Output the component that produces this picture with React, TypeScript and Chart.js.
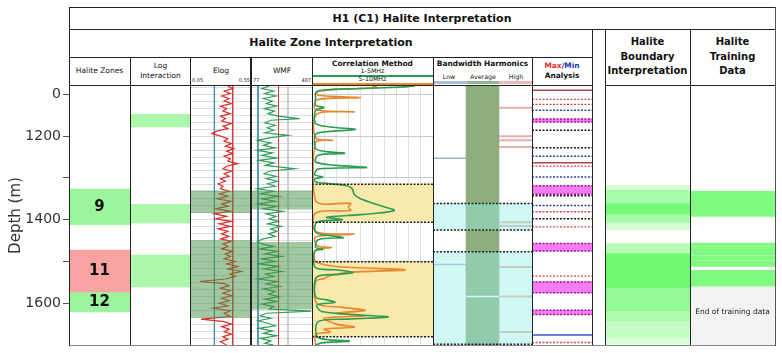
import React, { useEffect, useRef } from 'react';
import { Chart, registerables } from 'chart.js';

Chart.register(...registerables);

const FONT = '"DejaVu Sans", Verdana, sans-serif';

// ---------------- Depth axis ----------------
const DEPTH_MIN = 1080;
const DEPTH_MAX = 1700;
const DEPTH_TICKS = [1100, 1200, 1300, 1400, 1500, 1600];
const DEPTH_TICK_LABELS = ['0', '1200', '', '1400', '', '1600'];

// ---------------- Halite Zones ----------------
const ZONE_LABELS = ['9', '11', '12'];
const ZONE_TOPS = [1327, 1473, 1573];
const ZONE_BASES = [1412, 1573, 1621];
const ZONE_COLORS = ['#9cf59c', '#f7a3a3', '#9cf59c'];

// ---------------- Log Interaction ----------------
const LOG_INTERACTION_BANDS = [[1148, 1178], [1363, 1408], [1485, 1561]];

// ---------------- Elog ----------------
const ELOG_RANGE = [0.05, 0.55];
const ELOG_CUTOFFS = [0.25, 0.4];
const ELOG_SHADED = [[1331, 1383], [1450, 1634]];
const ELOG = [
  [1080, 0.36], [1086, 0.40], [1092, 0.33], [1098, 0.38], [1104, 0.31], [1110, 0.37], [1116, 0.33], [1122, 0.39],
  [1128, 0.30], [1134, 0.35], [1140, 0.32], [1146, 0.38], [1152, 0.30], [1158, 0.34], [1164, 0.31], [1170, 0.39],
  [1176, 0.32], [1182, 0.36], [1188, 0.27], [1194, 0.23], [1200, 0.30], [1206, 0.36], [1212, 0.33], [1218, 0.39],
  [1224, 0.34], [1230, 0.41], [1236, 0.35], [1242, 0.40], [1248, 0.33], [1254, 0.38], [1260, 0.36], [1266, 0.44],
  [1272, 0.35], [1278, 0.32], [1284, 0.39], [1290, 0.33], [1296, 0.37], [1302, 0.30], [1308, 0.34], [1314, 0.28],
  [1320, 0.32], [1326, 0.30], [1332, 0.37], [1338, 0.29], [1344, 0.36], [1350, 0.27], [1356, 0.39], [1362, 0.31],
  [1368, 0.36], [1374, 0.26], [1380, 0.38], [1386, 0.25], [1392, 0.35], [1398, 0.26], [1404, 0.39], [1410, 0.29],
  [1416, 0.38], [1422, 0.28], [1428, 0.36], [1434, 0.31], [1440, 0.37], [1446, 0.30], [1452, 0.39], [1458, 0.32],
  [1464, 0.36], [1470, 0.31], [1476, 0.40], [1482, 0.34], [1488, 0.38], [1494, 0.33], [1500, 0.42], [1506, 0.35],
  [1512, 0.44], [1518, 0.36], [1524, 0.47], [1530, 0.38], [1536, 0.42], [1542, 0.34], [1548, 0.13], [1553, 0.33],
  [1558, 0.37], [1564, 0.30], [1570, 0.38], [1576, 0.32], [1582, 0.39], [1588, 0.31], [1594, 0.37], [1600, 0.29],
  [1606, 0.36], [1612, 0.24], [1618, 0.38], [1624, 0.33], [1632, 0.38], [1638, 0.14], [1644, 0.33], [1650, 0.39],
  [1656, 0.31], [1662, 0.37], [1668, 0.33], [1674, 0.39], [1680, 0.32], [1686, 0.36], [1692, 0.30], [1700, 0.35],
];

// ---------------- WMF ----------------
const WMF_RANGE = [77, 487];
const WMF_CUTOFFS = [124, 262];
const WMF_GRID = [326];
const WMF_SHADED = [[1331, 1375], [1454, 1614]];
const WMF = [
  [1080, 200], [1086, 150], [1092, 230], [1098, 170], [1104, 245], [1110, 160], [1116, 220], [1122, 180],
  [1128, 250], [1134, 165], [1140, 235], [1146, 190], [1152, 260], [1158, 404], [1162, 210], [1168, 170],
  [1174, 240], [1180, 185], [1186, 230], [1192, 170], [1198, 326], [1204, 200], [1210, 120], [1216, 210],
  [1222, 160], [1228, 240], [1234, 118], [1240, 220], [1246, 150], [1252, 250], [1258, 130], [1264, 230],
  [1270, 175], [1278, 370], [1284, 200], [1290, 165], [1296, 245], [1302, 180], [1308, 255], [1314, 190],
  [1320, 240], [1326, 120], [1332, 230], [1338, 140], [1344, 265], [1350, 150], [1356, 240], [1362, 125],
  [1368, 250], [1374, 160], [1380, 290], [1386, 180], [1392, 245], [1398, 200], [1404, 260], [1410, 190],
  [1416, 280], [1422, 210], [1428, 250], [1434, 195], [1440, 240], [1446, 160], [1452, 120], [1458, 150],
  [1464, 230], [1470, 140], [1476, 255], [1482, 170], [1488, 280], [1494, 150], [1500, 240], [1506, 130],
  [1512, 260], [1518, 165], [1524, 285], [1530, 175], [1536, 230], [1542, 120], [1548, 250], [1554, 180],
  [1560, 270], [1566, 160], [1572, 240], [1578, 195], [1584, 265], [1590, 170], [1596, 250], [1602, 150],
  [1608, 230], [1614, 200], [1619, 482], [1624, 180], [1630, 140], [1636, 210], [1642, 125], [1648, 190],
  [1654, 240], [1660, 130], [1666, 220], [1672, 160], [1678, 250], [1684, 140], [1690, 210], [1696, 170],
  [1700, 230],
];

// ---------------- Correlation Method (% of track) ----------------
const CORR_ZONES = [[1315, 1406], [1501, 1680]];
const CORR_1_5MHZ = [
  [1080, 85], [1082, 78], [1086, 40], [1090, 8], [1096, 3], [1110, 3], [1126, 3], [1132, 10], [1138, 3],
  [1170, 3], [1178, 15], [1184, 36], [1190, 10], [1196, 3], [1230, 3], [1237, 12], [1241, 27], [1246, 5],
  [1262, 3], [1270, 20], [1275, 45], [1279, 5], [1292, 2], [1298, 9], [1303, 2], [1310, 3], [1318, 28],
  [1325, 33], [1340, 35], [1350, 40], [1365, 55], [1378, 68], [1388, 40], [1394, 12], [1400, 25], [1406, 4],
  [1430, 3], [1438, 14], [1443, 26], [1448, 5], [1466, 3], [1471, 9], [1476, 2], [1515, 3], [1520, 20],
  [1526, 34], [1531, 22], [1537, 4], [1585, 3], [1592, 12], [1598, 19], [1604, 4], [1620, 8], [1628, 40],
  [1633, 63], [1638, 30], [1644, 5], [1682, 5], [1690, 31], [1695, 8], [1700, 3],
];
const CORR_5_10MHZ = [
  [1080, 50], [1084, 54], [1088, 20], [1094, 4], [1102, 5], [1108, 40], [1113, 4], [1136, 3], [1142, 35],
  [1147, 4], [1204, 3], [1210, 17], [1215, 3], [1355, 3], [1361, 32], [1370, 30], [1378, 32], [1384, 3],
  [1428, 3], [1435, 35], [1441, 3], [1462, 4], [1467, 16], [1472, 3], [1500, 3], [1512, 20], [1520, 77],
  [1526, 30], [1534, 15], [1541, 10], [1548, 3], [1600, 4], [1610, 25], [1617, 44], [1624, 20], [1630, 44],
  [1636, 10], [1650, 20], [1657, 35], [1662, 10], [1669, 15], [1675, 3], [1700, 3],
];

// ---------------- Bandwidth Harmonics ----------------
const BW_COLUMNS = ['Low', 'Average', 'High'];
const BW_ZONES = [[1361, 1425], [1477, 1698]];
const BW_LOW_LINES = [1253, 1507];
const BW_HIGH_LINES = [1132, 1200, 1210, 1226, 1406, 1415, 1513, 1584, 1669];
const BW_AVERAGE_BREAKS = [1584];

// ---------------- Max/Min Analysis ----------------
const MM_RED_DOTTED = [1112, 1124, 1272, 1381, 1417, 1535, 1694];
const MM_BLUE_DOTTED = [1138, 1248, 1298, 1366];
const MM_BLACK_DOTTED = [1186, 1228, 1343, 1398];
const MM_RED_SOLID = [1090, 1264];
const MM_BLUE_SOLID = [1676];
const MM_MAGENTA_BANDS = [[1159, 1166], [1319, 1339], [1457, 1475], [1549, 1575], [1617, 1627]];

// ---------------- Halite Boundary Interpretation ----------------
const BOUNDARY_TOPS = [1318, 1330, 1362, 1386, 1406, 1457, 1481, 1562, 1617, 1641, 1681];
const BOUNDARY_BASES = [1330, 1362, 1386, 1406, 1425, 1481, 1562, 1617, 1641, 1681, 1700];
const BOUNDARY_STRENGTH = [0.3, 0.6, 0.95, 0.6, 0.3, 0.5, 1, 0.75, 0.55, 0.4, 0.25];

// ---------------- Halite Training Data ----------------
const TRAINING_BANDS = [[1332, 1392], [1456, 1464], [1466, 1474], [1476, 1484], [1486, 1496], [1498, 1512], [1521, 1561]];
const TRAINING_END = [1561, 1700];
const TRAINING_NOTE = 'End of training data';
const TRAINING_NOTE_DEPTH = 1621;

// ---------------- Layout ----------------
const PLOT_TOP = 86;
const PLOT_BOTTOM = 345;
const PAD = 12;
const CANVAS_H = PLOT_BOTTOM - PLOT_TOP + 2 * PAD;

const fixedTicks = (values: number[]) => (scale: any) => {
  scale.ticks = values.map((v) => ({ value: v }));
};
const steps = (from: number, to: number, step: number) => {
  const out: number[] = [];
  for (let v = from; v <= to + 1e-9; v += step) out.push(v);
  return out;
};

function depthScale(gridValues?: number[], gridColor?: string) {
  if (!gridValues) {
    return { type: 'linear', reverse: true, min: DEPTH_MIN, max: DEPTH_MAX, display: false };
  }
  return {
    type: 'linear', reverse: true, min: DEPTH_MIN, max: DEPTH_MAX, display: true,
    afterBuildTicks: fixedTicks(gridValues),
    afterFit: (s: any) => { s.width = 0; },
    ticks: { display: false },
    grid: { drawTicks: false, color: gridColor, lineWidth: 1 },
    border: { display: false },
  };
}

function baseOptions(scales: any) {
  return {
    animation: false,
    responsive: false,
    events: [],
    layout: { padding: { top: PAD, bottom: PAD, left: 0, right: 0 } },
    plugins: { legend: { display: false }, tooltip: { enabled: false }, title: { display: false } },
    scales,
  };
}

const cat = (labels: string[]) => ({ type: 'category', labels, display: false, offset: true });

const lineDS = (data: any[], color: string, width: number, extra: any = {}) => ({
  type: 'line', data, borderColor: color, borderWidth: width, pointRadius: 0, fill: false,
  tension: 0, spanGaps: false, xAxisID: 'x', yAxisID: 'y', ...extra,
});
const bandDS = (bands: number[][], color: string, axis = 'xc', extra: any = {}) =>
  bands.map(([a, b]) => ({
    type: 'bar', data: [[a, b]], backgroundColor: color, borderWidth: 0, grouped: false,
    barPercentage: 1, categoryPercentage: 1, xAxisID: axis, yAxisID: 'y', ...extra,
  }));
const hSegs = (depths: number[], x0: number, x1: number) =>
  depths.flatMap((d) => [{ x: x0, y: d }, { x: x1, y: d }, { x: x1, y: null }]);
const vLine = (x: number) => [{ x, y: DEPTH_MIN }, { x, y: DEPTH_MAX }];
const curve = (pairs: number[][]) => pairs.map(([d, v]) => ({ x: v, y: d }));

const textPlugin = (items: { text: string; depth: number; font: string; color: string }[]) => ({
  id: 'trackText',
  afterDatasetsDraw(chart: any) {
    const { ctx, chartArea, scales } = chart;
    ctx.save();
    ctx.textAlign = 'center';
    ctx.textBaseline = 'middle';
    for (const it of items) {
      ctx.font = it.font;
      ctx.fillStyle = it.color;
      ctx.fillText(it.text, (chartArea.left + chartArea.right) / 2, scales.y.getPixelForValue(it.depth));
    }
    ctx.restore();
  },
});

// ---------------- Chart configs ----------------
const zonesConfig = (axisWidth: number) => ({
  type: 'bar',
  data: {
    labels: ['zone'],
    datasets: ZONE_TOPS.map((t, i) => ({
      data: [[t, ZONE_BASES[i]]], backgroundColor: ZONE_COLORS[i], borderWidth: 0, grouped: false,
      barPercentage: 1, categoryPercentage: 1,
    })),
  },
  options: baseOptions({
    x: cat(['zone']),
    y: {
      type: 'linear', reverse: true, min: DEPTH_MIN, max: DEPTH_MAX, position: 'left',
      afterBuildTicks: fixedTicks(DEPTH_TICKS),
      afterFit: (s: any) => { s.width = axisWidth; },
      ticks: {
        autoSkip: false, padding: 2, color: '#333', font: { family: FONT, size: 14 },
        callback: (v: number) => DEPTH_TICK_LABELS[DEPTH_TICKS.indexOf(v)],
      },
      grid: { drawOnChartArea: false, drawTicks: true, tickLength: 6, color: '#555' },
      border: { display: false },
      title: { display: true, text: 'Depth (m)', color: '#333', font: { family: FONT, size: 15 }, padding: { top: 7, bottom: 0 } },
    },
  }),
  plugins: [textPlugin(ZONE_LABELS.map((t, i) => ({
    text: t, depth: (ZONE_TOPS[i] + ZONE_BASES[i]) / 2, font: `bold 15px ${FONT}`, color: '#111',
  })))],
});

const logInteractionConfig = () => ({
  type: 'bar',
  data: { labels: ['log'], datasets: bandDS(LOG_INTERACTION_BANDS, '#acf7ac') },
  options: baseOptions({ xc: cat(['log']), y: depthScale() }),
});

const ELOG_GRID_STEP = 100 / 6;
const fineGrid = steps(DEPTH_TICKS[0] - ELOG_GRID_STEP, DEPTH_MAX, ELOG_GRID_STEP);

const elogConfig = () => ({
  type: 'line',
  data: {
    datasets: [
      lineDS(vLine(ELOG_CUTOFFS[0]), '#3f8fa6', 1, { order: 3 }),
      lineDS(vLine(ELOG_CUTOFFS[1]), '#d23a3a', 1, { order: 3 }),
      lineDS(curve(ELOG), '#e02a2a', 1.2, { order: 2 }),
      ...bandDS(ELOG_SHADED, 'rgba(70,145,70,0.5)', 'xc', { order: 1 }),
    ],
  },
  options: baseOptions({
    x: { type: 'linear', min: ELOG_RANGE[0], max: ELOG_RANGE[1], display: false },
    xc: cat(['shade']),
    y: depthScale(fineGrid, '#dcdcdc'),
  }),
});

const wmfConfig = () => ({
  type: 'line',
  data: {
    datasets: [
      lineDS(vLine(WMF_GRID[0]), '#c8c8c8', 1, { order: 4 }),
      lineDS(vLine(WMF_CUTOFFS[0]), '#3f8fa6', 1, { order: 3 }),
      lineDS(vLine(WMF_CUTOFFS[1]), '#d23a3a', 1, { order: 3 }),
      lineDS(curve(WMF), '#2f9c5a', 1.2, { order: 2 }),
      ...bandDS(WMF_SHADED, 'rgba(70,145,70,0.5)', 'xc', { order: 1 }),
    ],
  },
  options: baseOptions({
    x: { type: 'linear', min: WMF_RANGE[0], max: WMF_RANGE[1], display: false },
    xc: cat(['shade']),
    y: depthScale(fineGrid, '#dcdcdc'),
  }),
});

const corrEdges = CORR_ZONES.flat();
const corrConfig = () => ({
  type: 'line',
  data: {
    datasets: [
      ...bandDS(CORR_ZONES, '#fae9ad', 'xc', { order: 3 }),
      lineDS(curve(CORR_5_10MHZ), '#e8872c', 1.6, { order: 2, tension: 0.3 }),
      lineDS(curve(CORR_1_5MHZ), '#2b9c50', 1.6, { order: 1, tension: 0.3 }),
      lineDS(hSegs(corrEdges, 0, 100), '#222', 1.5, { order: 0, borderDash: [2, 1.5] }),
    ],
  },
  options: baseOptions({
    x: {
      type: 'linear', min: 0, max: 100, display: true,
      afterBuildTicks: fixedTicks(steps(10, 90, 10)),
      afterFit: (s: any) => { s.height = 0; },
      ticks: { display: false },
      grid: { drawTicks: false, color: '#e2e2e2' },
      border: { display: false },
    },
    xc: cat(['zone']),
    y: depthScale(DEPTH_TICKS, '#c9c9d3'),
  }),
});

const bwEdges = BW_ZONES.flat();
const bwConfig = () => ({
  type: 'line',
  data: {
    datasets: [
      {
        type: 'bar', data: BW_COLUMNS.map((c) => (c === 'Average' ? [DEPTH_MIN, DEPTH_MAX] : null)),
        backgroundColor: '#8fae80', borderWidth: 0, grouped: false, barPercentage: 1, categoryPercentage: 1,
        xAxisID: 'xb', yAxisID: 'y', order: 4,
      },
      lineDS(hSegs(BW_LOW_LINES, 0, 1), '#9fb3cc', 1.5, { order: 3 }),
      lineDS(hSegs(BW_HIGH_LINES, 2, 3), '#e6b0b0', 2, { order: 3 }),
      lineDS(hSegs(BW_AVERAGE_BREAKS, 1, 2), '#ffffff', 1.5, { order: 3 }),
      ...bandDS(BW_ZONES, 'rgba(150,240,226,0.45)', 'xc', { order: 1 }),
      lineDS(hSegs(bwEdges, 0, 3), '#222', 1.5, { order: 0, borderDash: [2, 1.5] }),
    ],
  },
  options: baseOptions({
    x: { type: 'linear', min: 0, max: 3, display: false },
    xb: cat(BW_COLUMNS),
    xc: cat(['zone']),
    y: depthScale(),
  }),
});

const magentaEdges = MM_MAGENTA_BANDS.flat();
const mmConfig = () => ({
  type: 'line',
  data: {
    datasets: [
      ...bandDS(MM_MAGENTA_BANDS, 'rgba(240,70,240,0.7)', 'xc', { order: 3 }),
      lineDS(hSegs(magentaEdges, 0, 1), '#9a1a9a', 1.5, { order: 2, borderDash: [2, 1.5] }),
      lineDS(hSegs(MM_RED_DOTTED, 0, 1), '#cf4a4a', 1.3, { order: 1, borderDash: [2, 1.5] }),
      lineDS(hSegs(MM_BLUE_DOTTED, 0, 1), '#34439c', 1.5, { order: 1, borderDash: [2, 1.5] }),
      lineDS(hSegs(MM_BLACK_DOTTED, 0, 1), '#1c1c1c', 1.5, { order: 1, borderDash: [2, 1.5] }),
      lineDS(hSegs(MM_RED_SOLID, 0, 1), '#a84848', 1.5, { order: 1 }),
      lineDS(hSegs(MM_BLUE_SOLID, 0, 1), '#7080e0', 2, { order: 1 }),
    ],
  },
  options: baseOptions({
    x: { type: 'linear', min: 0, max: 1, display: false },
    xc: cat(['band']),
    y: depthScale(),
  }),
});

const boundaryConfig = () => ({
  type: 'bar',
  data: {
    labels: ['b'],
    datasets: BOUNDARY_TOPS.map((t, i) => ({
      data: [[t, BOUNDARY_BASES[i]]], backgroundColor: `rgba(112,250,112,${BOUNDARY_STRENGTH[i]})`,
      borderWidth: 0, grouped: false, barPercentage: 1, categoryPercentage: 1,
    })),
  },
  options: baseOptions({ x: cat(['b']), y: depthScale() }),
});

const trainingConfig = () => ({
  type: 'bar',
  data: {
    labels: ['t'],
    datasets: [
      ...bandDS([TRAINING_END], '#f3f3f3', 'x'),
      ...bandDS(TRAINING_BANDS, '#80fa80', 'x'),
    ],
  },
  options: baseOptions({ x: cat(['t']), y: depthScale() }),
  plugins: [textPlugin([{ text: TRAINING_NOTE, depth: TRAINING_NOTE_DEPTH, font: `7.5px ${FONT}`, color: '#222' }])],
});

// ---------------- Components ----------------
function Track({ left, right, config }: { left: number; right: number; config: () => any }) {
  const ref = useRef<HTMLCanvasElement>(null);
  useEffect(() => {
    const chart = new Chart(ref.current as HTMLCanvasElement, config() as any);
    return () => chart.destroy();
  }, []);
  const w = right - left;
  return (
    <canvas
      ref={ref}
      width={w}
      height={CANVAS_H}
      style={{ position: 'absolute', left, top: PLOT_TOP - PAD, width: w, height: CANVAS_H, display: 'block' }}
    />
  );
}

function T({ cx, cy, size, bold, color, children }: any) {
  return (
    <div
      style={{
        position: 'absolute', left: cx - 100, top: cy - size, width: 200, height: size * 2,
        display: 'flex', alignItems: 'center', justifyContent: 'center', fontSize: size,
        fontWeight: bold ? 'bold' : 'normal', color: color || '#111', whiteSpace: 'nowrap', lineHeight: 1,
      }}
    >
      {children}
    </div>
  );
}

function Small({ x, cy, size, align, children }: any) {
  const style: any = {
    position: 'absolute', top: cy - size, height: size * 2, display: 'flex', alignItems: 'center',
    fontSize: size, whiteSpace: 'nowrap', lineHeight: 1, color: '#222',
  };
  if (align === 'right') { style.right = 782 - x; } else { style.left = x; }
  return <div style={style}>{children}</div>;
}

function HL({ y, x1, x2, c = '#222', t = 1 }: any) {
  return <div style={{ position: 'absolute', left: x1, top: y, width: x2 - x1, height: t, background: c }} />;
}
function VL({ x, y1, y2, c = '#222', t = 1 }: any) {
  return <div style={{ position: 'absolute', left: x, top: y1, width: t, height: y2 - y1, background: c }} />;
}

const C = { axis: 69, zones: 130, log: 190, elog: 251, wmf: 312, corr: 433, bw: 532, mm: 592, gap: 605, bound: 690, train: 775 };

export default function App() {
  return (
    <div
      style={{
        position: 'absolute', left: 0, top: 0, width: 782, height: 353, overflow: 'hidden',
        background: '#fff', fontFamily: FONT, color: '#111',
      }}
    >
      {/* headers */}
      <T cx={422} cy={18.5} size={11} bold>H1 (C1) Halite Interpretation</T>
      <T cx={331} cy={42} size={11} bold>Halite Zone Interpretation</T>
      <T cx={99.5} cy={71} size={7.5}>Halite Zones</T>
      <T cx={160.5} cy={66} size={7.5}>Log</T>
      <T cx={160.5} cy={76} size={7.5}>Interaction</T>
      <T cx={221} cy={71} size={7.5}>Elog</T>
      <Small x={192} cy={80.5} size={5}>0.05</Small>
      <Small x={250} cy={80.5} size={5} align="right">0.55</Small>
      <T cx={282} cy={71} size={7.5}>WMF</T>
      <Small x={253} cy={80.5} size={5}>77</Small>
      <Small x={311} cy={80.5} size={5} align="right">487</Small>
      <T cx={372.5} cy={63.5} size={7.4} bold>Correlation Method</T>
      <T cx={372.5} cy={71.5} size={6.3}>1-5MHz</T>
      <HL y={75} x1={312} x2={433} c="#2b9c50" t={1.5} />
      <T cx={372.5} cy={79.5} size={6.3}>5-10MHz</T>
      <HL y={83} x1={312} x2={433} c="#e8872c" t={1.5} />
      <T cx={482.5} cy={63.5} size={7.4} bold>Bandwidth Harmonics</T>
      <T cx={449} cy={77.5} size={6.3}>Low</T>
      <T cx={483} cy={77.5} size={6.3}>Average</T>
      <T cx={516} cy={77.5} size={6.3}>High</T>
      <HL y={81} x1={433} x2={467} c="#a9bfdc" t={3} />
      <HL y={81} x1={467} x2={499} c="#8fb88c" t={3} />
      <HL y={81} x1={499} x2={532} c="#f0b9b9" t={3} />
      <T cx={562} cy={66} size={7.4} bold>
        <span style={{ color: '#e03030' }}>Max</span>
        <span style={{ color: '#1c2a6e' }}>/</span>
        <span style={{ color: '#2233b8' }}>Min</span>
      </T>
      <T cx={562} cy={76} size={7.4} bold>Analysis</T>
      <T cx={647.5} cy={42} size={10} bold>Halite</T>
      <T cx={647.5} cy={56.7} size={10} bold>Boundary</T>
      <T cx={647.5} cy={71} size={10} bold>Interpretation</T>
      <T cx={732.5} cy={42} size={10} bold>Halite</T>
      <T cx={732.5} cy={56.7} size={10} bold>Training</T>
      <T cx={732.5} cy={71} size={10} bold>Data</T>

      {/* tracks */}
      <Track left={0} right={C.zones} config={() => zonesConfig(C.axis)} />
      <Track left={C.zones} right={C.log} config={logInteractionConfig} />
      <Track left={C.log} right={C.elog} config={elogConfig} />
      <Track left={C.elog} right={C.wmf} config={wmfConfig} />
      <Track left={C.wmf} right={C.corr} config={corrConfig} />
      <Track left={C.corr} right={C.bw} config={bwConfig} />
      <Track left={C.bw} right={C.mm} config={mmConfig} />
      <Track left={C.gap} right={C.bound} config={boundaryConfig} />
      <Track left={C.bound} right={C.train} config={trainingConfig} />

      {/* frame */}
      <HL y={7} x1={69} x2={776} />
      <HL y={29} x1={69} x2={776} />
      <HL y={57} x1={69} x2={593} />
      <HL y={85} x1={69} x2={593} />
      <HL y={85} x1={605} x2={776} />
      <HL y={345} x1={69} x2={776} c="#888" />
      <VL x={69} y1={7} y2={346} />
      <VL x={775} y1={7} y2={346} c="#555" />
      <VL x={130} y1={57} y2={345} />
      <VL x={190} y1={57} y2={345} />
      <VL x={250} y1={57} y2={345} t={2} />
      <VL x={312} y1={57} y2={345} />
      <VL x={433} y1={57} y2={345} />
      <VL x={532} y1={57} y2={345} />
      <VL x={592} y1={29} y2={345} />
      <VL x={605} y1={29} y2={345} />
      <VL x={690} y1={29} y2={345} />
    </div>
  );
}
